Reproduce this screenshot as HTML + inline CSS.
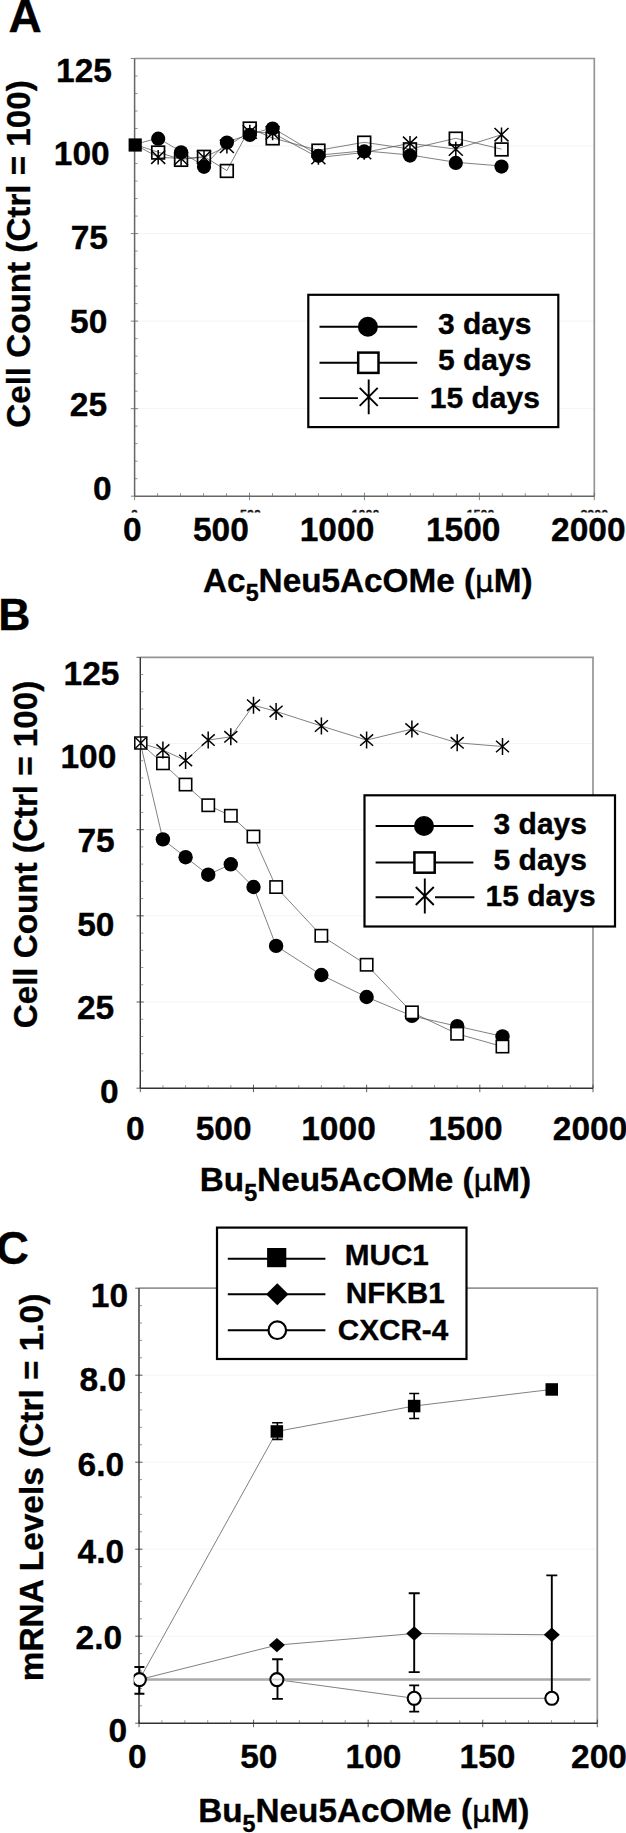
<!DOCTYPE html>
<html lang="en"><head><meta charset="utf-8"><title>Figure</title>
<style>html,body{margin:0;padding:0;background:#fff}svg{display:block}text{stroke:#000;stroke-width:.35px}</style>
</head><body>
<svg width="626" height="1833" viewBox="0 0 626 1833" font-family="Liberation Sans, sans-serif" font-weight="bold" fill="#000">
<rect width="626" height="1833" fill="#fff"/>
<text x="25.1" y="31.7" font-size="46" text-anchor="middle" >A</text>
<line x1="134.60" y1="408.66" x2="594.30" y2="408.66" stroke="#f4f4f4" stroke-width="1" />
<line x1="134.60" y1="321.12" x2="594.30" y2="321.12" stroke="#f4f4f4" stroke-width="1" />
<line x1="134.60" y1="233.58" x2="594.30" y2="233.58" stroke="#f4f4f4" stroke-width="1" />
<line x1="134.60" y1="146.04" x2="594.30" y2="146.04" stroke="#f4f4f4" stroke-width="1" />
<line x1="134.60" y1="58.50" x2="595.10" y2="58.50" stroke="#959595" stroke-width="1.7" />
<line x1="594.30" y1="58.50" x2="594.30" y2="496.20" stroke="#959595" stroke-width="1.7" />
<line x1="134.60" y1="58.50" x2="134.60" y2="496.20" stroke="#666" stroke-width="1.5" />
<line x1="134.60" y1="496.20" x2="594.30" y2="496.20" stroke="#666" stroke-width="1.5" />
<line x1="130.80" y1="408.66" x2="138.10" y2="408.66" stroke="#666" stroke-width="0.8" />
<line x1="130.80" y1="321.12" x2="138.10" y2="321.12" stroke="#666" stroke-width="0.8" />
<line x1="130.80" y1="233.58" x2="138.10" y2="233.58" stroke="#666" stroke-width="0.8" />
<line x1="130.80" y1="146.04" x2="138.10" y2="146.04" stroke="#666" stroke-width="0.8" />
<line x1="130.80" y1="58.50" x2="134.60" y2="58.50" stroke="#666" stroke-width="0.8" />
<line x1="130.80" y1="496.20" x2="134.60" y2="496.20" stroke="#666" stroke-width="0.8" />
<line x1="134.60" y1="478.69" x2="137.60" y2="478.69" stroke="#666" stroke-width="0.7" />
<line x1="134.60" y1="461.18" x2="137.60" y2="461.18" stroke="#666" stroke-width="0.7" />
<line x1="134.60" y1="443.68" x2="137.60" y2="443.68" stroke="#666" stroke-width="0.7" />
<line x1="134.60" y1="426.17" x2="137.60" y2="426.17" stroke="#666" stroke-width="0.7" />
<line x1="134.60" y1="391.15" x2="137.60" y2="391.15" stroke="#666" stroke-width="0.7" />
<line x1="134.60" y1="373.64" x2="137.60" y2="373.64" stroke="#666" stroke-width="0.7" />
<line x1="134.60" y1="356.14" x2="137.60" y2="356.14" stroke="#666" stroke-width="0.7" />
<line x1="134.60" y1="338.63" x2="137.60" y2="338.63" stroke="#666" stroke-width="0.7" />
<line x1="134.60" y1="303.61" x2="137.60" y2="303.61" stroke="#666" stroke-width="0.7" />
<line x1="134.60" y1="286.10" x2="137.60" y2="286.10" stroke="#666" stroke-width="0.7" />
<line x1="134.60" y1="268.60" x2="137.60" y2="268.60" stroke="#666" stroke-width="0.7" />
<line x1="134.60" y1="251.09" x2="137.60" y2="251.09" stroke="#666" stroke-width="0.7" />
<line x1="134.60" y1="216.07" x2="137.60" y2="216.07" stroke="#666" stroke-width="0.7" />
<line x1="134.60" y1="198.56" x2="137.60" y2="198.56" stroke="#666" stroke-width="0.7" />
<line x1="134.60" y1="181.06" x2="137.60" y2="181.06" stroke="#666" stroke-width="0.7" />
<line x1="134.60" y1="163.55" x2="137.60" y2="163.55" stroke="#666" stroke-width="0.7" />
<line x1="134.60" y1="128.53" x2="137.60" y2="128.53" stroke="#666" stroke-width="0.7" />
<line x1="134.60" y1="111.02" x2="137.60" y2="111.02" stroke="#666" stroke-width="0.7" />
<line x1="134.60" y1="93.52" x2="137.60" y2="93.52" stroke="#666" stroke-width="0.7" />
<line x1="134.60" y1="76.01" x2="137.60" y2="76.01" stroke="#666" stroke-width="0.7" />
<line x1="134.60" y1="492.70" x2="134.60" y2="500.20" stroke="#666" stroke-width="0.8" />
<line x1="249.52" y1="492.70" x2="249.52" y2="500.20" stroke="#666" stroke-width="0.8" />
<line x1="364.45" y1="492.70" x2="364.45" y2="500.20" stroke="#666" stroke-width="0.8" />
<line x1="479.38" y1="492.70" x2="479.38" y2="500.20" stroke="#666" stroke-width="0.8" />
<line x1="594.30" y1="492.70" x2="594.30" y2="500.20" stroke="#666" stroke-width="0.8" />
<line x1="157.58" y1="493.20" x2="157.58" y2="496.20" stroke="#666" stroke-width="0.7" />
<line x1="180.57" y1="493.20" x2="180.57" y2="496.20" stroke="#666" stroke-width="0.7" />
<line x1="203.56" y1="493.20" x2="203.56" y2="496.20" stroke="#666" stroke-width="0.7" />
<line x1="226.54" y1="493.20" x2="226.54" y2="496.20" stroke="#666" stroke-width="0.7" />
<line x1="272.51" y1="493.20" x2="272.51" y2="496.20" stroke="#666" stroke-width="0.7" />
<line x1="295.50" y1="493.20" x2="295.50" y2="496.20" stroke="#666" stroke-width="0.7" />
<line x1="318.48" y1="493.20" x2="318.48" y2="496.20" stroke="#666" stroke-width="0.7" />
<line x1="341.46" y1="493.20" x2="341.46" y2="496.20" stroke="#666" stroke-width="0.7" />
<line x1="387.43" y1="493.20" x2="387.43" y2="496.20" stroke="#666" stroke-width="0.7" />
<line x1="410.42" y1="493.20" x2="410.42" y2="496.20" stroke="#666" stroke-width="0.7" />
<line x1="433.40" y1="493.20" x2="433.40" y2="496.20" stroke="#666" stroke-width="0.7" />
<line x1="456.39" y1="493.20" x2="456.39" y2="496.20" stroke="#666" stroke-width="0.7" />
<line x1="502.36" y1="493.20" x2="502.36" y2="496.20" stroke="#666" stroke-width="0.7" />
<line x1="525.34" y1="493.20" x2="525.34" y2="496.20" stroke="#666" stroke-width="0.7" />
<line x1="548.33" y1="493.20" x2="548.33" y2="496.20" stroke="#666" stroke-width="0.7" />
<line x1="571.31" y1="493.20" x2="571.31" y2="496.20" stroke="#666" stroke-width="0.7" />
<polyline points="134.6,144.4 158.2,138.1 181.1,151.7 204.0,166.2 226.9,142.0 249.8,134.3 272.6,127.9 318.4,155.2 364.2,150.8 410.0,155.0 455.8,162.3 501.5,166.0" fill="none" stroke="#505050" stroke-width="0.72"/>
<polyline points="134.6,144.4 158.2,152.2 181.1,159.5 204.0,156.5 226.9,170.6 249.8,128.2 272.6,138.0 318.4,150.3 364.2,142.3 410.0,149.0 455.8,138.3 501.5,149.1" fill="none" stroke="#505050" stroke-width="0.72"/>
<polyline points="134.6,144.4 158.2,157.2 181.1,158.5 204.0,157.5 226.9,146.3 249.8,132.0 272.6,133.0 318.4,157.5 364.2,152.5 410.0,143.3 455.8,149.1 501.5,134.7" fill="none" stroke="#505050" stroke-width="0.72"/>
<rect x="151.8" y="146.2" width="12.7" height="12.7" fill="none" stroke="#000" stroke-width="1.7"/>
<rect x="174.7" y="153.5" width="12.7" height="12.7" fill="none" stroke="#000" stroke-width="1.7"/>
<rect x="197.6" y="150.5" width="12.7" height="12.7" fill="none" stroke="#000" stroke-width="1.7"/>
<rect x="220.5" y="164.6" width="12.7" height="12.7" fill="none" stroke="#000" stroke-width="1.7"/>
<rect x="243.4" y="122.2" width="12.7" height="12.7" fill="none" stroke="#000" stroke-width="1.7"/>
<rect x="266.3" y="132.0" width="12.7" height="12.7" fill="none" stroke="#000" stroke-width="1.7"/>
<rect x="312.1" y="144.3" width="12.7" height="12.7" fill="none" stroke="#000" stroke-width="1.7"/>
<rect x="357.9" y="136.3" width="12.7" height="12.7" fill="none" stroke="#000" stroke-width="1.7"/>
<rect x="403.6" y="143.0" width="12.7" height="12.7" fill="none" stroke="#000" stroke-width="1.7"/>
<rect x="449.4" y="132.3" width="12.7" height="12.7" fill="none" stroke="#000" stroke-width="1.7"/>
<rect x="495.2" y="143.1" width="12.7" height="12.7" fill="none" stroke="#000" stroke-width="1.7"/>
<path d="M151.2 150.5L165.2 163.9M151.2 163.9L165.2 150.5M158.2 149.9L158.2 164.5" stroke="#000" stroke-width="1.5" fill="none"/>
<path d="M174.1 151.8L188.1 165.2M174.1 165.2L188.1 151.8M181.1 151.2L181.1 165.8" stroke="#000" stroke-width="1.5" fill="none"/>
<path d="M197.0 150.8L211.0 164.2M197.0 164.2L211.0 150.8M204.0 150.2L204.0 164.8" stroke="#000" stroke-width="1.5" fill="none"/>
<path d="M219.9 139.6L233.9 153.0M219.9 153.0L233.9 139.6M226.9 139.0L226.9 153.6" stroke="#000" stroke-width="1.5" fill="none"/>
<path d="M242.8 125.3L256.8 138.7M242.8 138.7L256.8 125.3M249.8 124.7L249.8 139.3" stroke="#000" stroke-width="1.5" fill="none"/>
<path d="M265.6 126.3L279.6 139.7M265.6 139.7L279.6 126.3M272.6 125.7L272.6 140.3" stroke="#000" stroke-width="1.5" fill="none"/>
<path d="M311.4 150.8L325.4 164.2M311.4 164.2L325.4 150.8M318.4 150.2L318.4 164.8" stroke="#000" stroke-width="1.5" fill="none"/>
<path d="M357.2 145.8L371.2 159.2M357.2 159.2L371.2 145.8M364.2 145.2L364.2 159.8" stroke="#000" stroke-width="1.5" fill="none"/>
<path d="M403.0 136.6L417.0 150.0M403.0 150.0L417.0 136.6M410.0 136.0L410.0 150.6" stroke="#000" stroke-width="1.5" fill="none"/>
<path d="M448.8 142.4L462.8 155.8M448.8 155.8L462.8 142.4M455.8 141.8L455.8 156.4" stroke="#000" stroke-width="1.5" fill="none"/>
<path d="M494.5 128.0L508.5 141.4M494.5 141.4L508.5 128.0M501.5 127.4L501.5 142.0" stroke="#000" stroke-width="1.5" fill="none"/>
<circle cx="158.2" cy="138.7" r="7.1" fill="#000"/>
<circle cx="181.1" cy="152.3" r="7.1" fill="#000"/>
<circle cx="204.0" cy="166.8" r="7.1" fill="#000"/>
<circle cx="226.9" cy="142.6" r="7.1" fill="#000"/>
<circle cx="249.8" cy="134.9" r="7.1" fill="#000"/>
<circle cx="272.6" cy="128.5" r="7.1" fill="#000"/>
<circle cx="318.4" cy="155.8" r="7.1" fill="#000"/>
<circle cx="364.2" cy="151.4" r="7.1" fill="#000"/>
<circle cx="410.0" cy="155.6" r="7.1" fill="#000"/>
<circle cx="455.8" cy="162.9" r="7.1" fill="#000"/>
<circle cx="501.5" cy="166.6" r="7.1" fill="#000"/>
<rect x="128.6" y="138.4" width="13.2" height="13.2" fill="#000"/>
<text x="84.0" y="81.8" font-size="33.5" text-anchor="middle" >125</text>
<text x="81.8" y="165.3" font-size="33.5" text-anchor="middle" >100</text>
<text x="89.3" y="249.4" font-size="33.5" text-anchor="middle" >75</text>
<text x="88.7" y="332.5" font-size="33.5" text-anchor="middle" >50</text>
<text x="88.4" y="416.2" font-size="33.5" text-anchor="middle" >25</text>
<text x="102.2" y="499.5" font-size="33.5" text-anchor="middle" >0</text>
<text x="132.4" y="541.3" font-size="33.5" text-anchor="middle" >0</text>
<text x="220.9" y="541.3" font-size="33.5" text-anchor="middle" >500</text>
<text x="337.0" y="541.3" font-size="33.5" text-anchor="middle" >1000</text>
<text x="463.2" y="541.3" font-size="33.5" text-anchor="middle" >1500</text>
<text x="588.3" y="541.3" font-size="33.5" text-anchor="middle" >2000</text>
<clipPath id="clipA"><rect x="120" y="509" width="506" height="3.4"/></clipPath>
<g clip-path="url(#clipA)" fill="#222">
<text x="134.6" y="519.4" font-size="12.5" text-anchor="middle" >0</text>
<text x="250.5" y="519.4" font-size="12.5" text-anchor="middle" >500</text>
<text x="365.5" y="519.4" font-size="12.5" text-anchor="middle" >1000</text>
<text x="480.5" y="519.4" font-size="12.5" text-anchor="middle" >1500</text>
<text x="594.3" y="519.4" font-size="12.5" text-anchor="middle" >2000</text>
</g>
<text transform="translate(30.0 254.0) rotate(-90)" font-size="33.2" text-anchor="middle">Cell Count (Ctrl = 100)</text>
<text x="367.8" y="592.1" font-size="33.3" text-anchor="middle">Ac<tspan font-size="23.3" dy="8.8">5</tspan><tspan dy="-8.8">Neu5AcOMe (</tspan><tspan font-family="DejaVu Sans, sans-serif" font-weight="normal" stroke="#000" stroke-width="0.55" font-size="29.3">μ</tspan>M)</text>
<rect x="308.3" y="294.8" width="249.99999999999994" height="132.3" fill="#fff" stroke="#000" stroke-width="2.2"/>
<line x1="319.50" y1="326.80" x2="417.20" y2="326.80" stroke="#000" stroke-width="1.9" />
<line x1="319.50" y1="362.70" x2="417.20" y2="362.70" stroke="#000" stroke-width="1.9" />
<line x1="319.50" y1="398.10" x2="357.90" y2="398.10" stroke="#000" stroke-width="1.9" />
<line x1="378.90" y1="398.10" x2="418.20" y2="398.10" stroke="#000" stroke-width="1.9" />
<circle cx="367.9" cy="326.8" r="10" fill="#000"/>
<rect x="358.2" y="352.6" width="20.3" height="20.3" fill="#fff" stroke="#000" stroke-width="2.5"/>
<path d="M359.7 387.9L377.7 405.9M359.7 405.9L377.7 387.9M368.7 379.5L368.7 414.3" stroke="#000" stroke-width="1.9" fill="none"/>
<text x="484.7" y="333.6" font-size="30" text-anchor="middle" >3 days</text>
<text x="484.7" y="370.3" font-size="30" text-anchor="middle" >5 days</text>
<text x="484.8" y="407.5" font-size="30" text-anchor="middle" >15 days</text>
<text x="14.4" y="630.3" font-size="44.5" text-anchor="middle" >B</text>
<line x1="140.30" y1="1002.02" x2="593.00" y2="1002.02" stroke="#f4f4f4" stroke-width="1" />
<line x1="140.30" y1="915.84" x2="593.00" y2="915.84" stroke="#f4f4f4" stroke-width="1" />
<line x1="140.30" y1="829.66" x2="593.00" y2="829.66" stroke="#f4f4f4" stroke-width="1" />
<line x1="140.30" y1="743.48" x2="593.00" y2="743.48" stroke="#f4f4f4" stroke-width="1" />
<line x1="140.30" y1="657.30" x2="593.80" y2="657.30" stroke="#959595" stroke-width="1.7" />
<line x1="593.00" y1="657.30" x2="593.00" y2="1088.20" stroke="#959595" stroke-width="1.7" />
<line x1="140.30" y1="657.30" x2="140.30" y2="1088.20" stroke="#333" stroke-width="1.4" />
<line x1="140.30" y1="1088.20" x2="593.00" y2="1088.20" stroke="#333" stroke-width="1.4" />
<line x1="136.50" y1="1002.02" x2="143.80" y2="1002.02" stroke="#333" stroke-width="0.8" />
<line x1="136.50" y1="915.84" x2="143.80" y2="915.84" stroke="#333" stroke-width="0.8" />
<line x1="136.50" y1="829.66" x2="143.80" y2="829.66" stroke="#333" stroke-width="0.8" />
<line x1="136.50" y1="743.48" x2="143.80" y2="743.48" stroke="#333" stroke-width="0.8" />
<line x1="136.50" y1="657.30" x2="140.30" y2="657.30" stroke="#333" stroke-width="0.8" />
<line x1="136.50" y1="1088.20" x2="140.30" y2="1088.20" stroke="#333" stroke-width="0.8" />
<line x1="140.30" y1="1070.96" x2="143.30" y2="1070.96" stroke="#666" stroke-width="0.7" />
<line x1="140.30" y1="1053.73" x2="143.30" y2="1053.73" stroke="#666" stroke-width="0.7" />
<line x1="140.30" y1="1036.49" x2="143.30" y2="1036.49" stroke="#666" stroke-width="0.7" />
<line x1="140.30" y1="1019.26" x2="143.30" y2="1019.26" stroke="#666" stroke-width="0.7" />
<line x1="140.30" y1="984.78" x2="143.30" y2="984.78" stroke="#666" stroke-width="0.7" />
<line x1="140.30" y1="967.55" x2="143.30" y2="967.55" stroke="#666" stroke-width="0.7" />
<line x1="140.30" y1="950.31" x2="143.30" y2="950.31" stroke="#666" stroke-width="0.7" />
<line x1="140.30" y1="933.08" x2="143.30" y2="933.08" stroke="#666" stroke-width="0.7" />
<line x1="140.30" y1="898.60" x2="143.30" y2="898.60" stroke="#666" stroke-width="0.7" />
<line x1="140.30" y1="881.37" x2="143.30" y2="881.37" stroke="#666" stroke-width="0.7" />
<line x1="140.30" y1="864.13" x2="143.30" y2="864.13" stroke="#666" stroke-width="0.7" />
<line x1="140.30" y1="846.90" x2="143.30" y2="846.90" stroke="#666" stroke-width="0.7" />
<line x1="140.30" y1="812.42" x2="143.30" y2="812.42" stroke="#666" stroke-width="0.7" />
<line x1="140.30" y1="795.19" x2="143.30" y2="795.19" stroke="#666" stroke-width="0.7" />
<line x1="140.30" y1="777.95" x2="143.30" y2="777.95" stroke="#666" stroke-width="0.7" />
<line x1="140.30" y1="760.72" x2="143.30" y2="760.72" stroke="#666" stroke-width="0.7" />
<line x1="140.30" y1="726.24" x2="143.30" y2="726.24" stroke="#666" stroke-width="0.7" />
<line x1="140.30" y1="709.01" x2="143.30" y2="709.01" stroke="#666" stroke-width="0.7" />
<line x1="140.30" y1="691.77" x2="143.30" y2="691.77" stroke="#666" stroke-width="0.7" />
<line x1="140.30" y1="674.54" x2="143.30" y2="674.54" stroke="#666" stroke-width="0.7" />
<line x1="140.30" y1="1084.70" x2="140.30" y2="1092.20" stroke="#333" stroke-width="0.8" />
<line x1="253.48" y1="1084.70" x2="253.48" y2="1092.20" stroke="#333" stroke-width="0.8" />
<line x1="366.65" y1="1084.70" x2="366.65" y2="1092.20" stroke="#333" stroke-width="0.8" />
<line x1="479.82" y1="1084.70" x2="479.82" y2="1092.20" stroke="#333" stroke-width="0.8" />
<line x1="593.00" y1="1084.70" x2="593.00" y2="1092.20" stroke="#333" stroke-width="0.8" />
<line x1="162.94" y1="1085.20" x2="162.94" y2="1088.20" stroke="#666" stroke-width="0.7" />
<line x1="185.57" y1="1085.20" x2="185.57" y2="1088.20" stroke="#666" stroke-width="0.7" />
<line x1="208.21" y1="1085.20" x2="208.21" y2="1088.20" stroke="#666" stroke-width="0.7" />
<line x1="230.84" y1="1085.20" x2="230.84" y2="1088.20" stroke="#666" stroke-width="0.7" />
<line x1="276.11" y1="1085.20" x2="276.11" y2="1088.20" stroke="#666" stroke-width="0.7" />
<line x1="298.75" y1="1085.20" x2="298.75" y2="1088.20" stroke="#666" stroke-width="0.7" />
<line x1="321.38" y1="1085.20" x2="321.38" y2="1088.20" stroke="#666" stroke-width="0.7" />
<line x1="344.01" y1="1085.20" x2="344.01" y2="1088.20" stroke="#666" stroke-width="0.7" />
<line x1="389.28" y1="1085.20" x2="389.28" y2="1088.20" stroke="#666" stroke-width="0.7" />
<line x1="411.92" y1="1085.20" x2="411.92" y2="1088.20" stroke="#666" stroke-width="0.7" />
<line x1="434.56" y1="1085.20" x2="434.56" y2="1088.20" stroke="#666" stroke-width="0.7" />
<line x1="457.19" y1="1085.20" x2="457.19" y2="1088.20" stroke="#666" stroke-width="0.7" />
<line x1="502.46" y1="1085.20" x2="502.46" y2="1088.20" stroke="#666" stroke-width="0.7" />
<line x1="525.10" y1="1085.20" x2="525.10" y2="1088.20" stroke="#666" stroke-width="0.7" />
<line x1="547.73" y1="1085.20" x2="547.73" y2="1088.20" stroke="#666" stroke-width="0.7" />
<line x1="570.37" y1="1085.20" x2="570.37" y2="1088.20" stroke="#666" stroke-width="0.7" />
<polyline points="140.3,743.0 162.9,839.4 185.6,857.2 208.2,874.7 230.8,864.3 253.5,887.0 276.1,945.9 321.4,975.0 366.6,997.0 411.9,1015.9 457.2,1026.2 502.5,1036.4" fill="none" stroke="#505050" stroke-width="0.72"/>
<polyline points="140.3,743.0 162.9,763.4 185.6,784.5 208.2,805.3 230.8,815.7 253.5,836.5 276.1,887.0 321.4,935.7 366.6,964.8 411.9,1012.4 457.2,1033.8 502.5,1046.6" fill="none" stroke="#505050" stroke-width="0.72"/>
<polyline points="140.3,743.0 162.9,750.1 185.6,760.4 208.2,740.1 230.8,736.8 253.5,705.2 276.1,711.4 321.4,726.0 366.6,740.1 411.9,729.1 457.2,742.8 502.5,746.5" fill="none" stroke="#505050" stroke-width="0.72"/>
<circle cx="162.9" cy="839.4" r="7.2" fill="#000"/>
<circle cx="185.6" cy="857.2" r="7.2" fill="#000"/>
<circle cx="208.2" cy="874.7" r="7.2" fill="#000"/>
<circle cx="230.8" cy="864.3" r="7.2" fill="#000"/>
<circle cx="253.5" cy="887.0" r="7.2" fill="#000"/>
<circle cx="276.1" cy="945.9" r="7.2" fill="#000"/>
<circle cx="321.4" cy="975.0" r="7.2" fill="#000"/>
<circle cx="366.6" cy="997.0" r="7.2" fill="#000"/>
<circle cx="411.9" cy="1015.9" r="7.2" fill="#000"/>
<circle cx="457.2" cy="1026.2" r="7.2" fill="#000"/>
<circle cx="502.5" cy="1036.4" r="7.2" fill="#000"/>
<rect x="156.8" y="757.2" width="12.3" height="12.3" fill="#fff" stroke="#000" stroke-width="1.6"/>
<rect x="179.4" y="778.4" width="12.3" height="12.3" fill="#fff" stroke="#000" stroke-width="1.6"/>
<rect x="202.1" y="799.1" width="12.3" height="12.3" fill="#fff" stroke="#000" stroke-width="1.6"/>
<rect x="224.7" y="809.6" width="12.3" height="12.3" fill="#fff" stroke="#000" stroke-width="1.6"/>
<rect x="247.3" y="830.4" width="12.3" height="12.3" fill="#fff" stroke="#000" stroke-width="1.6"/>
<rect x="270.0" y="880.9" width="12.3" height="12.3" fill="#fff" stroke="#000" stroke-width="1.6"/>
<rect x="315.2" y="929.6" width="12.3" height="12.3" fill="#fff" stroke="#000" stroke-width="1.6"/>
<rect x="360.5" y="958.6" width="12.3" height="12.3" fill="#fff" stroke="#000" stroke-width="1.6"/>
<rect x="405.8" y="1006.2" width="12.3" height="12.3" fill="#fff" stroke="#000" stroke-width="1.6"/>
<rect x="451.0" y="1027.6" width="12.3" height="12.3" fill="#fff" stroke="#000" stroke-width="1.6"/>
<rect x="496.3" y="1040.4" width="12.3" height="12.3" fill="#fff" stroke="#000" stroke-width="1.6"/>
<path d="M156.4 744.4L169.4 755.8M156.4 755.8L169.4 744.4M162.9 741.6L162.9 758.6" stroke="#000" stroke-width="1.5" fill="none"/>
<path d="M179.1 754.7L192.1 766.1M179.1 766.1L192.1 754.7M185.6 751.9L185.6 768.9" stroke="#000" stroke-width="1.5" fill="none"/>
<path d="M201.7 734.4L214.7 745.8M201.7 745.8L214.7 734.4M208.2 731.6L208.2 748.6" stroke="#000" stroke-width="1.5" fill="none"/>
<path d="M224.3 731.1L237.3 742.5M224.3 742.5L237.3 731.1M230.8 728.3L230.8 745.3" stroke="#000" stroke-width="1.5" fill="none"/>
<path d="M247.0 699.5L260.0 710.9M247.0 710.9L260.0 699.5M253.5 696.7L253.5 713.7" stroke="#000" stroke-width="1.5" fill="none"/>
<path d="M269.6 705.7L282.6 717.1M269.6 717.1L282.6 705.7M276.1 702.9L276.1 719.9" stroke="#000" stroke-width="1.5" fill="none"/>
<path d="M314.9 720.3L327.9 731.7M314.9 731.7L327.9 720.3M321.4 717.5L321.4 734.5" stroke="#000" stroke-width="1.5" fill="none"/>
<path d="M360.1 734.4L373.1 745.8M360.1 745.8L373.1 734.4M366.6 731.6L366.6 748.6" stroke="#000" stroke-width="1.5" fill="none"/>
<path d="M405.4 723.4L418.4 734.8M405.4 734.8L418.4 723.4M411.9 720.6L411.9 737.6" stroke="#000" stroke-width="1.5" fill="none"/>
<path d="M450.7 737.1L463.7 748.5M450.7 748.5L463.7 737.1M457.2 734.3L457.2 751.3" stroke="#000" stroke-width="1.5" fill="none"/>
<path d="M496.0 740.8L509.0 752.2M496.0 752.2L509.0 740.8M502.5 738.0L502.5 755.0" stroke="#000" stroke-width="1.5" fill="none"/>
<rect x="134.8" y="737.0" width="12" height="12" fill="#fff" stroke="#000" stroke-width="1.5"/>
<path d="M135.3 737.5L146.3 748.5M135.3 748.5L146.3 737.5M140.8 737.0L140.8 749.0" stroke="#000" stroke-width="1.3" fill="none"/>
<text x="91.5" y="684.9" font-size="33.5" text-anchor="middle" >125</text>
<text x="88.4" y="768.3" font-size="33.5" text-anchor="middle" >100</text>
<text x="96.1" y="851.7" font-size="33.5" text-anchor="middle" >75</text>
<text x="95.8" y="936.0" font-size="33.5" text-anchor="middle" >50</text>
<text x="95.6" y="1019.2" font-size="33.5" text-anchor="middle" >25</text>
<text x="109.2" y="1103.0" font-size="33.5" text-anchor="middle" >0</text>
<text x="135.2" y="1139.5" font-size="33.5" text-anchor="middle" >0</text>
<text x="223.7" y="1139.5" font-size="33.5" text-anchor="middle" >500</text>
<text x="338.5" y="1139.5" font-size="33.5" text-anchor="middle" >1000</text>
<text x="465.4" y="1139.5" font-size="33.5" text-anchor="middle" >1500</text>
<text x="590.1" y="1139.5" font-size="33.5" text-anchor="middle" >2000</text>
<text transform="translate(36.8 854.5) rotate(-90)" font-size="33.2" text-anchor="middle">Cell Count (Ctrl = 100)</text>
<text x="365.4" y="1191.3" font-size="33.3" text-anchor="middle">Bu<tspan font-size="23.3" dy="10">5</tspan><tspan dy="-10">Neu5AcOMe (</tspan><tspan font-family="DejaVu Sans, sans-serif" font-weight="normal" stroke="#000" stroke-width="0.55" font-size="29.3">μ</tspan>M)</text>
<rect x="364.5" y="795.3" width="250.5" height="131.20000000000005" fill="#fff" stroke="#000" stroke-width="2.2"/>
<line x1="375.60" y1="826.00" x2="473.40" y2="826.00" stroke="#000" stroke-width="1.9" />
<line x1="375.60" y1="862.50" x2="473.40" y2="862.50" stroke="#000" stroke-width="1.9" />
<line x1="375.60" y1="897.20" x2="414.00" y2="897.20" stroke="#000" stroke-width="1.9" />
<line x1="435.00" y1="897.20" x2="474.40" y2="897.20" stroke="#000" stroke-width="1.9" />
<circle cx="424.0" cy="826.0" r="10" fill="#000"/>
<rect x="414.4" y="852.4" width="20.3" height="20.3" fill="#fff" stroke="#000" stroke-width="2.5"/>
<path d="M415.8 887.0L433.8 905.0M415.8 905.0L433.8 887.0M424.8 878.6L424.8 913.4" stroke="#000" stroke-width="1.9" fill="none"/>
<text x="540.3" y="833.6" font-size="30" text-anchor="middle" >3 days</text>
<text x="540.3" y="870.3" font-size="30" text-anchor="middle" >5 days</text>
<text x="540.6" y="906.2" font-size="30" text-anchor="middle" >15 days</text>
<text x="12.4" y="1263.9" font-size="45.6" text-anchor="middle" >C</text>
<line x1="139.00" y1="1636.20" x2="597.30" y2="1636.20" stroke="#f4f4f4" stroke-width="1" />
<line x1="139.00" y1="1549.20" x2="597.30" y2="1549.20" stroke="#f4f4f4" stroke-width="1" />
<line x1="139.00" y1="1462.20" x2="597.30" y2="1462.20" stroke="#f4f4f4" stroke-width="1" />
<line x1="139.00" y1="1375.20" x2="597.30" y2="1375.20" stroke="#f4f4f4" stroke-width="1" />
<line x1="139.00" y1="1288.20" x2="598.10" y2="1288.20" stroke="#959595" stroke-width="1.7" />
<line x1="597.30" y1="1288.20" x2="597.30" y2="1723.20" stroke="#959595" stroke-width="1.7" />
<line x1="139.00" y1="1288.20" x2="139.00" y2="1723.20" stroke="#333" stroke-width="1.4" />
<line x1="139.00" y1="1723.20" x2="597.30" y2="1723.20" stroke="#333" stroke-width="1.4" />
<line x1="135.20" y1="1636.20" x2="142.50" y2="1636.20" stroke="#333" stroke-width="0.8" />
<line x1="135.20" y1="1549.20" x2="142.50" y2="1549.20" stroke="#333" stroke-width="0.8" />
<line x1="135.20" y1="1462.20" x2="142.50" y2="1462.20" stroke="#333" stroke-width="0.8" />
<line x1="135.20" y1="1375.20" x2="142.50" y2="1375.20" stroke="#333" stroke-width="0.8" />
<line x1="135.20" y1="1288.20" x2="139.00" y2="1288.20" stroke="#333" stroke-width="0.8" />
<line x1="135.20" y1="1723.20" x2="139.00" y2="1723.20" stroke="#333" stroke-width="0.8" />
<line x1="139.00" y1="1705.80" x2="142.00" y2="1705.80" stroke="#666" stroke-width="0.7" />
<line x1="139.00" y1="1688.40" x2="142.00" y2="1688.40" stroke="#666" stroke-width="0.7" />
<line x1="139.00" y1="1671.00" x2="142.00" y2="1671.00" stroke="#666" stroke-width="0.7" />
<line x1="139.00" y1="1653.60" x2="142.00" y2="1653.60" stroke="#666" stroke-width="0.7" />
<line x1="139.00" y1="1618.80" x2="142.00" y2="1618.80" stroke="#666" stroke-width="0.7" />
<line x1="139.00" y1="1601.40" x2="142.00" y2="1601.40" stroke="#666" stroke-width="0.7" />
<line x1="139.00" y1="1584.00" x2="142.00" y2="1584.00" stroke="#666" stroke-width="0.7" />
<line x1="139.00" y1="1566.60" x2="142.00" y2="1566.60" stroke="#666" stroke-width="0.7" />
<line x1="139.00" y1="1531.80" x2="142.00" y2="1531.80" stroke="#666" stroke-width="0.7" />
<line x1="139.00" y1="1514.40" x2="142.00" y2="1514.40" stroke="#666" stroke-width="0.7" />
<line x1="139.00" y1="1497.00" x2="142.00" y2="1497.00" stroke="#666" stroke-width="0.7" />
<line x1="139.00" y1="1479.60" x2="142.00" y2="1479.60" stroke="#666" stroke-width="0.7" />
<line x1="139.00" y1="1444.80" x2="142.00" y2="1444.80" stroke="#666" stroke-width="0.7" />
<line x1="139.00" y1="1427.40" x2="142.00" y2="1427.40" stroke="#666" stroke-width="0.7" />
<line x1="139.00" y1="1410.00" x2="142.00" y2="1410.00" stroke="#666" stroke-width="0.7" />
<line x1="139.00" y1="1392.60" x2="142.00" y2="1392.60" stroke="#666" stroke-width="0.7" />
<line x1="139.00" y1="1357.80" x2="142.00" y2="1357.80" stroke="#666" stroke-width="0.7" />
<line x1="139.00" y1="1340.40" x2="142.00" y2="1340.40" stroke="#666" stroke-width="0.7" />
<line x1="139.00" y1="1323.00" x2="142.00" y2="1323.00" stroke="#666" stroke-width="0.7" />
<line x1="139.00" y1="1305.60" x2="142.00" y2="1305.60" stroke="#666" stroke-width="0.7" />
<line x1="139.00" y1="1719.70" x2="139.00" y2="1727.20" stroke="#333" stroke-width="0.8" />
<line x1="253.57" y1="1719.70" x2="253.57" y2="1727.20" stroke="#333" stroke-width="0.8" />
<line x1="368.15" y1="1719.70" x2="368.15" y2="1727.20" stroke="#333" stroke-width="0.8" />
<line x1="482.72" y1="1719.70" x2="482.72" y2="1727.20" stroke="#333" stroke-width="0.8" />
<line x1="597.30" y1="1719.70" x2="597.30" y2="1727.20" stroke="#333" stroke-width="0.8" />
<line x1="161.91" y1="1720.20" x2="161.91" y2="1723.20" stroke="#666" stroke-width="0.7" />
<line x1="184.83" y1="1720.20" x2="184.83" y2="1723.20" stroke="#666" stroke-width="0.7" />
<line x1="207.75" y1="1720.20" x2="207.75" y2="1723.20" stroke="#666" stroke-width="0.7" />
<line x1="230.66" y1="1720.20" x2="230.66" y2="1723.20" stroke="#666" stroke-width="0.7" />
<line x1="276.49" y1="1720.20" x2="276.49" y2="1723.20" stroke="#666" stroke-width="0.7" />
<line x1="299.40" y1="1720.20" x2="299.40" y2="1723.20" stroke="#666" stroke-width="0.7" />
<line x1="322.32" y1="1720.20" x2="322.32" y2="1723.20" stroke="#666" stroke-width="0.7" />
<line x1="345.23" y1="1720.20" x2="345.23" y2="1723.20" stroke="#666" stroke-width="0.7" />
<line x1="391.06" y1="1720.20" x2="391.06" y2="1723.20" stroke="#666" stroke-width="0.7" />
<line x1="413.98" y1="1720.20" x2="413.98" y2="1723.20" stroke="#666" stroke-width="0.7" />
<line x1="436.89" y1="1720.20" x2="436.89" y2="1723.20" stroke="#666" stroke-width="0.7" />
<line x1="459.81" y1="1720.20" x2="459.81" y2="1723.20" stroke="#666" stroke-width="0.7" />
<line x1="505.64" y1="1720.20" x2="505.64" y2="1723.20" stroke="#666" stroke-width="0.7" />
<line x1="528.55" y1="1720.20" x2="528.55" y2="1723.20" stroke="#666" stroke-width="0.7" />
<line x1="551.47" y1="1720.20" x2="551.47" y2="1723.20" stroke="#666" stroke-width="0.7" />
<line x1="574.38" y1="1720.20" x2="574.38" y2="1723.20" stroke="#666" stroke-width="0.7" />
<polyline points="139.4,1679.6 276.9,1431.4 414.2,1406.0 551.8,1389.4" fill="none" stroke="#505050" stroke-width="0.72"/>
<polyline points="139.4,1679.6 276.9,1645.1 414.2,1633.5 551.8,1634.8" fill="none" stroke="#505050" stroke-width="0.72"/>
<polyline points="139.4,1679.6 276.9,1679.6 414.2,1698.3 551.8,1698.3" fill="none" stroke="#505050" stroke-width="0.72"/>
<line x1="139.00" y1="1679.50" x2="590.50" y2="1679.50" stroke="#aaa" stroke-width="2.3" />
<path d="M277.4 1422.8L277.4 1439.4M272.1 1422.8L282.7 1422.8M272.1 1439.4L282.7 1439.4" stroke="#000" stroke-width="1.6" fill="none"/>
<path d="M414.2 1393.5L414.2 1418.5M409.2 1393.5L419.2 1393.5M409.2 1418.5L419.2 1418.5" stroke="#000" stroke-width="1.6" fill="none"/>
<path d="M414.2 1593.2L414.2 1672.1M408.7 1593.2L419.7 1593.2M408.7 1672.1L419.7 1672.1" stroke="#000" stroke-width="1.9" fill="none"/>
<path d="M551.8 1575.4L551.8 1694.2M546.3 1575.4L557.3 1575.4M546.3 1694.2L557.3 1694.2" stroke="#000" stroke-width="1.9" fill="none"/>
<path d="M139.4 1667.0L139.4 1693.7M134.4 1667.0L144.4 1667.0M134.4 1693.7L144.4 1693.7" stroke="#000" stroke-width="1.9" fill="none"/>
<path d="M277.5 1659.3L277.5 1698.9M272.1 1659.3L282.9 1659.3M272.1 1698.9L282.9 1698.9" stroke="#000" stroke-width="1.9" fill="none"/>
<path d="M414.2 1685.4L414.2 1711.6M409.2 1685.4L419.2 1685.4M409.2 1711.6L419.2 1711.6" stroke="#000" stroke-width="1.9" fill="none"/>
<rect x="270.6" y="1425.2" width="12.5" height="12.5" fill="#000"/>
<rect x="407.9" y="1399.8" width="12.5" height="12.5" fill="#000"/>
<rect x="545.5" y="1383.2" width="12.5" height="12.5" fill="#000"/>
<path d="M268.9 1645.1L276.9 1637.9L284.9 1645.1L276.9 1652.3Z" fill="#000"/>
<path d="M406.2 1633.5L414.2 1626.3L422.2 1633.5L414.2 1640.7Z" fill="#000"/>
<path d="M543.8 1634.8L551.8 1627.6L559.8 1634.8L551.8 1642.0Z" fill="#000"/>
<clipPath id="clipC"><rect x="133.7" y="1600" width="500" height="200"/></clipPath>
<g clip-path="url(#clipC)">
<circle cx="139.4" cy="1679.6" r="6.5" fill="#fff" stroke="#000" stroke-width="2.1"/>
<circle cx="276.9" cy="1679.6" r="6.5" fill="#fff" stroke="#000" stroke-width="2.1"/>
<circle cx="414.2" cy="1698.3" r="6.5" fill="#fff" stroke="#000" stroke-width="2.1"/>
<circle cx="551.8" cy="1698.3" r="6.5" fill="#fff" stroke="#000" stroke-width="2.1"/>
</g>
<line x1="271.70" y1="1679.50" x2="282.10" y2="1679.50" stroke="#d4d4d4" stroke-width="2.0" />
<text x="109.4" y="1307.0" font-size="33.5" text-anchor="middle" >10</text>
<text x="102.8" y="1391.3" font-size="33.5" text-anchor="middle" >8.0</text>
<text x="100.9" y="1476.0" font-size="33.5" text-anchor="middle" >6.0</text>
<text x="100.8" y="1563.0" font-size="33.5" text-anchor="middle" >4.0</text>
<text x="98.8" y="1649.2" font-size="33.5" text-anchor="middle" >2.0</text>
<text x="117.7" y="1741.9" font-size="33.5" text-anchor="middle" >0</text>
<text x="137.3" y="1768.2" font-size="33.5" text-anchor="middle" >0</text>
<text x="258.8" y="1768.2" font-size="33.5" text-anchor="middle" >50</text>
<text x="373.5" y="1768.2" font-size="33.5" text-anchor="middle" >100</text>
<text x="487.5" y="1768.2" font-size="33.5" text-anchor="middle" >150</text>
<text x="599.0" y="1768.2" font-size="33.5" text-anchor="middle" >200</text>
<text transform="translate(43.2 1487.5) rotate(-90)" font-size="33.4" text-anchor="middle">mRNA Levels (Ctrl = 1.0)</text>
<text x="363.8" y="1822.0" font-size="33.3" text-anchor="middle">Bu<tspan font-size="23.3" dy="10">5</tspan><tspan dy="-10">Neu5AcOMe (</tspan><tspan font-family="DejaVu Sans, sans-serif" font-weight="normal" stroke="#000" stroke-width="0.55" font-size="29.3">μ</tspan>M)</text>
<rect x="217" y="1227.6" width="249.5" height="131.4" fill="#fff" stroke="#000" stroke-width="2.2"/>
<line x1="227.80" y1="1258.80" x2="325.40" y2="1258.80" stroke="#000" stroke-width="2.1" />
<line x1="227.80" y1="1294.30" x2="325.40" y2="1294.30" stroke="#000" stroke-width="2.1" />
<line x1="227.80" y1="1330.20" x2="325.40" y2="1330.20" stroke="#000" stroke-width="2.1" />
<rect x="267.1" y="1248.0" width="19.2" height="19.2" fill="#000"/>
<path d="M266.1 1294.3L277.3 1283.3L288.5 1294.3L277.3 1305.3Z" fill="#000"/>
<circle cx="277.3" cy="1330.2" r="8.8" fill="#fff" stroke="#000" stroke-width="2.2"/>
<text x="386.8" y="1265.4" font-size="29.7" text-anchor="middle" >MUC1</text>
<text x="395.3" y="1303.0" font-size="29.7" text-anchor="middle" >NFKB1</text>
<text x="393.0" y="1340.1" font-size="29.7" text-anchor="middle" >CXCR-4</text>
</svg>
</body></html>
